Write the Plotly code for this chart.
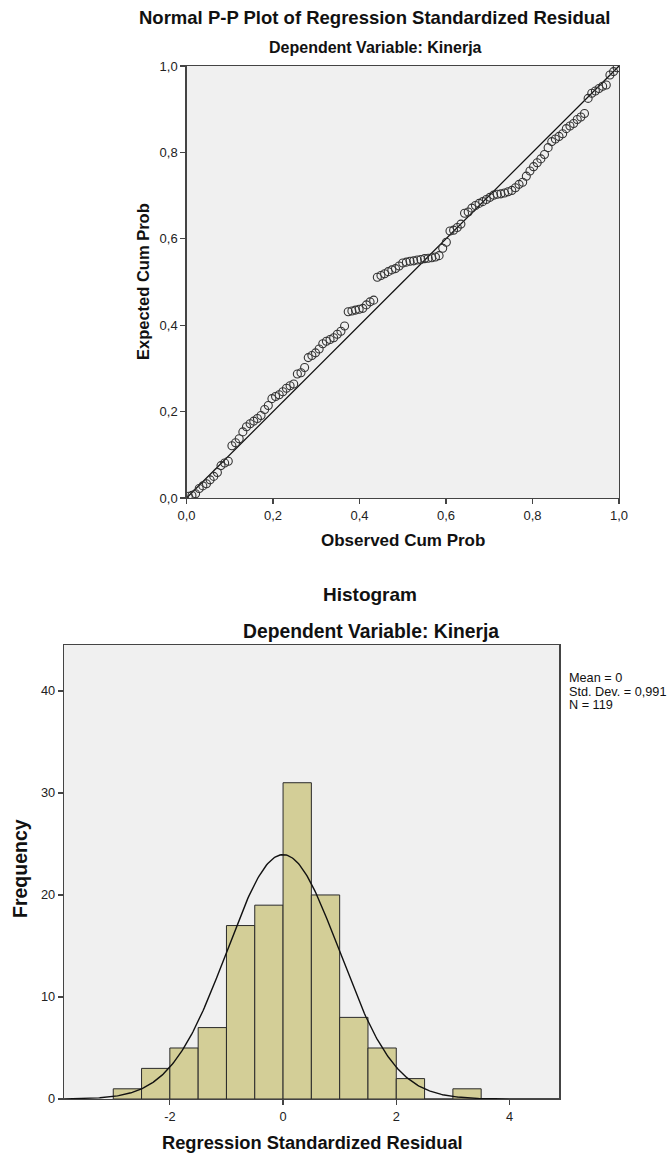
import numpy as np
import plotly.graph_objects as go

# ---------------- data ----------------
pp_observed = [0.0042, 0.0126, 0.0210, 0.0294, 0.0378, 0.0462, 0.0546, 0.0630, 0.0714, 0.0798,
               0.0882, 0.0966, 0.1050, 0.1134, 0.1218, 0.1303, 0.1387, 0.1471, 0.1555, 0.1639,
               0.1723, 0.1807, 0.1891, 0.1975, 0.2059, 0.2143, 0.2227, 0.2311, 0.2395, 0.2479,
               0.2563, 0.2647, 0.2731, 0.2815, 0.2899, 0.2983, 0.3067, 0.3151, 0.3235, 0.3319,
               0.3403, 0.3487, 0.3571, 0.3655, 0.3739, 0.3824, 0.3908, 0.3992, 0.4076, 0.4160,
               0.4244, 0.4328, 0.4412, 0.4496, 0.4580, 0.4664, 0.4748, 0.4832, 0.4916, 0.5000,
               0.5084, 0.5168, 0.5252, 0.5336, 0.5420, 0.5504, 0.5588, 0.5672, 0.5756, 0.5840,
               0.5924, 0.6008, 0.6092, 0.6176, 0.6261, 0.6345, 0.6429, 0.6513, 0.6597, 0.6681,
               0.6765, 0.6849, 0.6933, 0.7017, 0.7101, 0.7185, 0.7269, 0.7353, 0.7437, 0.7521,
               0.7605, 0.7689, 0.7773, 0.7857, 0.7941, 0.8025, 0.8109, 0.8193, 0.8277, 0.8361,
               0.8445, 0.8529, 0.8613, 0.8697, 0.8782, 0.8866, 0.8950, 0.9034, 0.9118, 0.9202,
               0.9286, 0.9370, 0.9454, 0.9538, 0.9622, 0.9706, 0.9790, 0.9874, 0.9958]
pp_expected = [0.004, 0.006, 0.010, 0.022, 0.028, 0.033, 0.042, 0.050, 0.059, 0.075,
               0.081, 0.085, 0.121, 0.128, 0.137, 0.153, 0.165, 0.172, 0.178, 0.184,
               0.191, 0.205, 0.214, 0.230, 0.235, 0.239, 0.246, 0.254, 0.260, 0.264,
               0.287, 0.290, 0.302, 0.325, 0.330, 0.336, 0.345, 0.357, 0.363, 0.367,
               0.371, 0.379, 0.386, 0.398, 0.431, 0.433, 0.435, 0.437, 0.439, 0.447,
               0.454, 0.458, 0.511, 0.515, 0.519, 0.524, 0.528, 0.531, 0.537, 0.544,
               0.546, 0.548, 0.549, 0.551, 0.552, 0.554, 0.555, 0.556, 0.558, 0.561,
               0.578, 0.592, 0.618, 0.620, 0.626, 0.634, 0.659, 0.662, 0.671, 0.677,
               0.682, 0.686, 0.691, 0.696, 0.701, 0.703, 0.704, 0.706, 0.709, 0.712,
               0.718, 0.726, 0.731, 0.745, 0.757, 0.767, 0.776, 0.785, 0.795, 0.811,
               0.825, 0.831, 0.837, 0.843, 0.855, 0.861, 0.867, 0.876, 0.882, 0.890,
               0.925, 0.937, 0.942, 0.948, 0.953, 0.956, 0.979, 0.987, 0.996]
pp_ref_line = [0.0, 1.0]
pp_ticks = [0.0, 0.2, 0.4, 0.6, 0.8, 1.0]
pp_ticklabels = ["0,0", "0,2", "0,4", "0,6", "0,8", "1,0"]

bin_left = [-3.0, -2.5, -2.0, -1.5, -1.0, -0.5, 0.0, 0.5, 1.0, 1.5, 2.0, 2.5, 3.0]
bin_counts = [1, 3, 5, 7, 17, 19, 31, 20, 8, 5, 2, 0, 1]
bin_width = 0.5
hist_mean = 0.0
hist_sd = 0.991
hist_n = 119
hist_xticks = [-2, 0, 2, 4]
hist_yticks = [0, 10, 20, 30, 40]
stats_lines = ["Mean = 0", "Std. Dev. = 0,991", "N = 119"]

# ---------------- figure ----------------
W, H = 668, 1154
FONT = "Arial, 'Liberation Sans', sans-serif"
TXT = "#222222"
FRAME = "#444444"

def px(x):
    return x / W

def py(y):
    return 1 - y / H

fig = go.Figure()

# P-P plot
fig.add_trace(go.Scatter(x=pp_ref_line, y=pp_ref_line, mode="lines",
                         line=dict(color="#111111", width=1.3),
                         xaxis="x", yaxis="y", hoverinfo="skip", showlegend=False))
fig.add_trace(go.Scatter(x=pp_observed, y=pp_expected, mode="markers",
                         marker=dict(symbol="circle-open", size=8, color="#333333",
                                     line=dict(color="#333333", width=1.1)),
                         xaxis="x", yaxis="y", showlegend=False))

# Histogram bars
centers = [b + bin_width / 2 for b in bin_left]
fig.add_trace(go.Bar(x=centers, y=bin_counts, width=bin_width,
                     marker=dict(color="#D3CE97", line=dict(color="#2a2a2a", width=1)),
                     xaxis="x2", yaxis="y2", showlegend=False))

# Normal curve from stated mean / sd / N
xr = [-3.87, 4.88]
xc = np.linspace(xr[0], xr[1], 400)
yc = hist_n * bin_width * np.exp(-0.5 * ((xc - hist_mean) / hist_sd) ** 2) / (hist_sd * np.sqrt(2 * np.pi))
fig.add_trace(go.Scatter(x=xc, y=yc, mode="lines", line=dict(color="#111111", width=1.4),
                         xaxis="x2", yaxis="y2", hoverinfo="skip", showlegend=False))

def axis_common(fs):
    return dict(showgrid=False, zeroline=False, showline=True, mirror=True, automargin=False,
                linecolor=FRAME, linewidth=1.2, ticks="outside", ticklen=5,
                tickcolor=FRAME, tickwidth=1.2,
                tickfont=dict(family=FONT, size=fs, color=TXT))

fig.update_layout(
    template=None,
    width=W, height=H,
    margin=dict(l=0, r=0, t=0, b=0, pad=0, autoexpand=False),
    paper_bgcolor="white",
    plot_bgcolor="#F0F0F0",
    bargap=0,
    showlegend=False,
    xaxis=dict(domain=[px(186.5), px(619)], range=[0, 1], anchor="y",
               tickvals=pp_ticks, ticktext=pp_ticklabels, **axis_common(13)),
    yaxis=dict(domain=[py(498), py(66)], range=[0, 1], anchor="x",
               tickvals=pp_ticks, ticktext=pp_ticklabels, **axis_common(13)),
    xaxis2=dict(domain=[px(64), px(559.3)], range=xr, anchor="y2",
                tickvals=hist_xticks, ticktext=[str(v) for v in hist_xticks], **axis_common(12.8)),
    yaxis2=dict(domain=[py(1099), py(645)], range=[0, 44.5], anchor="x2",
                tickvals=hist_yticks, ticktext=[str(v) for v in hist_yticks], **axis_common(12.8)),
)

def label(text, x, y, size=14, bold=True, angle=0, xanchor="center", yanchor="middle", align="center"):
    t = f"<b>{text}</b>" if bold else text
    fig.add_annotation(text=t, x=px(x), y=py(y), xref="paper", yref="paper",
                       showarrow=False, textangle=angle, xanchor=xanchor, yanchor=yanchor,
                       align=align, font=dict(family=FONT, size=size, color="#111111"))

label("Normal P-P Plot of Regression Standardized Residual", 375, 18, size=18.5)
label("Dependent Variable: Kinerja", 375, 48, size=16)
label("Expected Cum Prob", 143, 282, size=16.5, angle=-90)
label("Observed Cum Prob", 403, 540, size=17)

label("Histogram", 370, 594, size=19)
label("Dependent Variable: Kinerja", 371, 631, size=19.3)
label("Frequency", 20, 869, size=19.5, angle=-90)
label("Regression Standardized Residual", 312, 1142, size=18.3)

for i, s in enumerate(stats_lines):
    label(s, 567, 678 + i * 13.5, size=12.7, bold=False, xanchor="left")

fig.write_html("out.html",
               config={"displayModeBar": False, "staticPlot": True},
               post_script="document.body.style.margin='0';document.body.style.padding='0';"
                           "document.documentElement.style.margin='0';")
